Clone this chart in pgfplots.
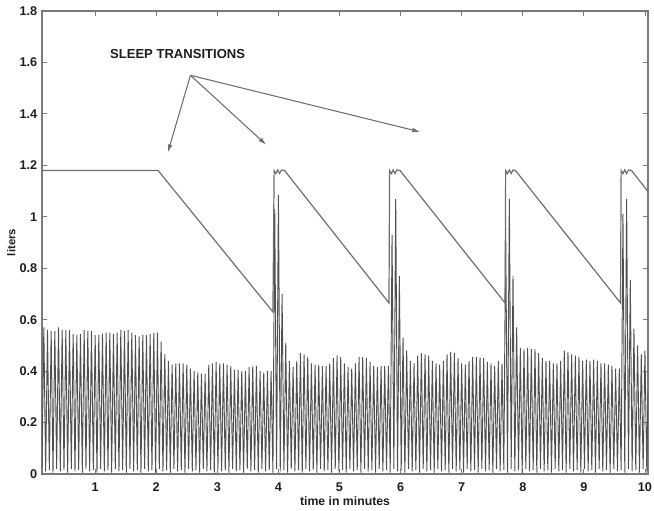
\documentclass[border=0pt]{standalone}
\usepackage{fontspec}
\setmainfont{Liberation Sans}
\usepackage{pgfplots}
\pgfplotsset{compat=1.18}
\usetikzlibrary{arrows.meta}
\definecolor{trace}{HTML}{505050}
\definecolor{saw}{HTML}{6E6E6E}
\definecolor{frame}{HTML}{7A7A7A}
\definecolor{ink}{HTML}{1E1E1E}
\begin{document}
\begin{tikzpicture}
\begin{axis}[
  scale only axis, width=454.5pt, height=347.25pt,
  xmin=0.13, xmax=10.05, ymin=0, ymax=1.8,
  xtick={1,2,3,4,5,6,7,8,9,10},
  ytick={0,0.2,0.4,0.6,0.8,1,1.2,1.4,1.6,1.8},
  tick pos=both, tick align=inside, major tick length=4pt,
  axis line style={draw=frame, line width=0.8pt},
  every tick/.style={draw=frame, line width=0.6pt},
  /pgf/number format/assume math mode=true,
  tick label style={font=\bfseries\fontsize{9.5}{11}\selectfont, text=ink},
  xticklabel shift=3pt,
  xlabel={time in minutes}, ylabel={liters},
  xlabel style={at={(axis description cs:0.5,-0.067)}, anchor=base,
    font=\bfseries\fontsize{9.2}{11}\selectfont, text=ink},
  ylabel style={at={(axis description cs:-0.044,0.5)}, anchor=base,
    font=\bfseries\fontsize{8.5}{10}\selectfont, text=ink},
]
\coordinate (sw) at (rel axis cs:0,0);
\coordinate (ne) at (rel axis cs:1,1);
% tidal volume, one trough and one peak per breath
\addplot[trace, line width=0.7pt] coordinates {
(0.13,0.02)(0.16,0.57)(0.19,0.01)(0.22,0.56)(0.25,0.015)(0.28,0.555)(0.31,0.005)(0.34,0.555)(0.37,0.02)(0.40,0.57)
(0.43,0.01)(0.46,0.56)(0.49,0.015)(0.52,0.56)(0.55,0.005)(0.58,0.56)(0.61,0.02)(0.64,0.545)(0.67,0.01)(0.70,0.54)
(0.73,0.015)(0.76,0.545)(0.79,0.005)(0.82,0.56)(0.85,0.02)(0.88,0.555)(0.91,0.01)(0.94,0.555)(0.97,0.015)(1.00,0.54)
(1.03,0.005)(1.06,0.54)(1.09,0.02)(1.12,0.545)(1.15,0.01)(1.18,0.55)(1.21,0.015)(1.24,0.55)(1.27,0.005)(1.30,0.545)
(1.33,0.02)(1.36,0.55)(1.39,0.01)(1.42,0.56)(1.45,0.015)(1.48,0.555)(1.51,0.005)(1.54,0.56)(1.57,0.02)(1.60,0.55)
(1.63,0.01)(1.66,0.54)(1.69,0.015)(1.72,0.535)(1.75,0.005)(1.78,0.54)(1.81,0.02)(1.84,0.54)(1.87,0.01)(1.90,0.545)
(1.93,0.015)(1.96,0.55)(1.99,0.005)(2.02,0.55)(2.05,0.02)(2.08,0.515)(2.11,0.01)(2.14,0.465)(2.17,0.015)(2.20,0.44)
(2.23,0.005)(2.26,0.425)(2.29,0.02)(2.32,0.43)(2.35,0.01)(2.38,0.43)(2.41,0.015)(2.44,0.43)(2.47,0.005)(2.50,0.425)
(2.53,0.02)(2.56,0.41)(2.59,0.01)(2.62,0.40)(2.65,0.015)(2.68,0.395)(2.71,0.005)(2.74,0.39)(2.77,0.02)(2.80,0.39)
(2.83,0.01)(2.86,0.425)(2.89,0.015)(2.92,0.43)(2.95,0.005)(2.98,0.435)(3.01,0.02)(3.04,0.43)(3.07,0.01)(3.10,0.43)
(3.13,0.015)(3.16,0.425)(3.19,0.005)(3.22,0.42)(3.25,0.02)(3.28,0.405)(3.31,0.01)(3.34,0.405)(3.37,0.015)(3.40,0.40)
(3.43,0.005)(3.46,0.40)(3.49,0.02)(3.52,0.415)(3.55,0.01)(3.58,0.42)(3.61,0.015)(3.64,0.42)(3.67,0.005)(3.70,0.40)
(3.73,0.02)(3.76,0.395)(3.79,0.01)(3.82,0.40)(3.85,0.015)(3.88,0.40)(3.91,0.005)(3.94,1.03)(3.97,0.02)(4.00,1.085)
(4.03,0.01)(4.06,0.70)(4.09,0.015)(4.12,0.51)(4.15,0.005)(4.18,0.44)(4.21,0.02)(4.24,0.415)(4.27,0.01)(4.30,0.44)
(4.33,0.015)(4.36,0.47)(4.39,0.005)(4.42,0.465)(4.45,0.02)(4.48,0.455)(4.51,0.01)(4.54,0.43)(4.57,0.015)(4.60,0.425)
(4.63,0.005)(4.66,0.425)(4.69,0.02)(4.72,0.42)(4.75,0.01)(4.78,0.42)(4.81,0.015)(4.84,0.43)(4.87,0.005)(4.90,0.45)
(4.93,0.02)(4.96,0.46)(4.99,0.01)(5.02,0.455)(5.05,0.015)(5.08,0.43)(5.11,0.005)(5.14,0.415)(5.17,0.02)(5.20,0.41)
(5.23,0.01)(5.26,0.43)(5.29,0.015)(5.32,0.455)(5.35,0.005)(5.38,0.455)(5.41,0.02)(5.44,0.45)(5.47,0.01)(5.50,0.435)
(5.53,0.015)(5.56,0.42)(5.59,0.005)(5.62,0.415)(5.65,0.02)(5.68,0.42)(5.71,0.01)(5.74,0.42)(5.77,0.015)(5.80,0.42)
(5.83,0.005)(5.86,0.93)(5.89,0.02)(5.92,1.07)(5.95,0.01)(5.98,0.77)(6.01,0.015)(6.04,0.53)(6.07,0.005)(6.10,0.48)
(6.13,0.02)(6.16,0.44)(6.19,0.01)(6.22,0.43)(6.25,0.015)(6.28,0.46)(6.31,0.005)(6.34,0.47)(6.37,0.02)(6.40,0.465)
(6.43,0.01)(6.46,0.46)(6.49,0.015)(6.52,0.44)(6.55,0.005)(6.58,0.43)(6.61,0.02)(6.64,0.425)(6.67,0.01)(6.70,0.44)
(6.73,0.015)(6.76,0.465)(6.79,0.005)(6.82,0.475)(6.85,0.02)(6.88,0.47)(6.91,0.01)(6.94,0.45)(6.97,0.015)(7.00,0.43)
(7.03,0.005)(7.06,0.425)(7.09,0.02)(7.12,0.44)(7.15,0.01)(7.18,0.455)(7.21,0.015)(7.24,0.455)(7.27,0.005)(7.30,0.455)
(7.33,0.02)(7.36,0.45)(7.39,0.01)(7.42,0.435)(7.45,0.015)(7.48,0.43)(7.51,0.005)(7.54,0.42)(7.57,0.02)(7.60,0.44)
(7.63,0.01)(7.66,0.43)(7.69,0.015)(7.72,0.96)(7.75,0.005)(7.78,1.07)(7.81,0.02)(7.84,0.77)(7.87,0.01)(7.90,0.57)
(7.93,0.015)(7.96,0.49)(7.99,0.005)(8.02,0.485)(8.05,0.02)(8.08,0.49)(8.11,0.01)(8.14,0.485)(8.17,0.015)(8.20,0.485)
(8.23,0.005)(8.26,0.47)(8.29,0.02)(8.32,0.45)(8.35,0.01)(8.38,0.44)(8.41,0.015)(8.44,0.44)(8.47,0.005)(8.50,0.43)
(8.53,0.02)(8.56,0.43)(8.59,0.01)(8.62,0.44)(8.65,0.015)(8.68,0.48)(8.71,0.005)(8.74,0.475)(8.77,0.02)(8.80,0.465)
(8.83,0.01)(8.86,0.46)(8.89,0.015)(8.92,0.455)(8.95,0.005)(8.98,0.44)(9.01,0.02)(9.04,0.445)(9.07,0.01)(9.10,0.44)
(9.13,0.015)(9.16,0.445)(9.19,0.005)(9.22,0.44)(9.25,0.02)(9.28,0.43)(9.31,0.01)(9.34,0.43)(9.37,0.015)(9.40,0.425)
(9.43,0.005)(9.46,0.42)(9.49,0.02)(9.52,0.41)(9.55,0.01)(9.58,0.41)(9.61,0.015)(9.64,1.01)(9.67,0.005)(9.70,1.07)
(9.73,0.02)(9.76,0.755)(9.79,0.01)(9.82,0.565)(9.85,0.015)(9.88,0.50)(9.91,0.005)(9.94,0.465)(9.97,0.02)(10.00,0.48)
(10.03,0.01)(10.05,0.32)
};
% sawtooth marking the sleep-stage ramps
\addplot[saw, line width=0.9pt] coordinates {
(0.13,1.18)(2.03,1.18)(3.91,0.63)(3.93,1.18)(3.96,1.168)(3.99,1.182)(4.02,1.168)(4.05,1.182)(4.10,1.18)
(5.81,0.665)(5.82,1.18)(5.85,1.168)(5.88,1.182)(5.91,1.168)(5.94,1.182)(5.99,1.18)
(7.71,0.665)(7.72,1.18)(7.75,1.168)(7.78,1.182)(7.81,1.168)(7.84,1.182)(7.88,1.18)
(9.60,0.665)(9.61,1.18)(9.64,1.168)(9.67,1.182)(9.70,1.168)(9.73,1.182)(9.78,1.18)
(10.05,1.098)
};
\node[font=\bfseries\fontsize{9.8}{11}\selectfont, text=ink] at (axis cs:2.35,1.634) {SLEEP TRANSITIONS};
\draw[saw, line width=0.8pt, -{Latex[length=6pt,width=3.5pt]}] (axis cs:2.56,1.55) -- (axis cs:2.19,1.25);
\draw[saw, line width=0.8pt, -{Latex[length=6pt,width=3.5pt]}] (axis cs:2.56,1.55) -- (axis cs:3.80,1.28);
\draw[saw, line width=0.8pt, -{Latex[length=6pt,width=3.5pt]}] (axis cs:2.56,1.55) -- (axis cs:6.32,1.33);
\end{axis}
\pgfresetboundingbox
\path (sw) ++(-31.5pt,-27pt) rectangle ([shift={(4.5pt,8.25pt)}]ne);
\end{tikzpicture}
\end{document}
